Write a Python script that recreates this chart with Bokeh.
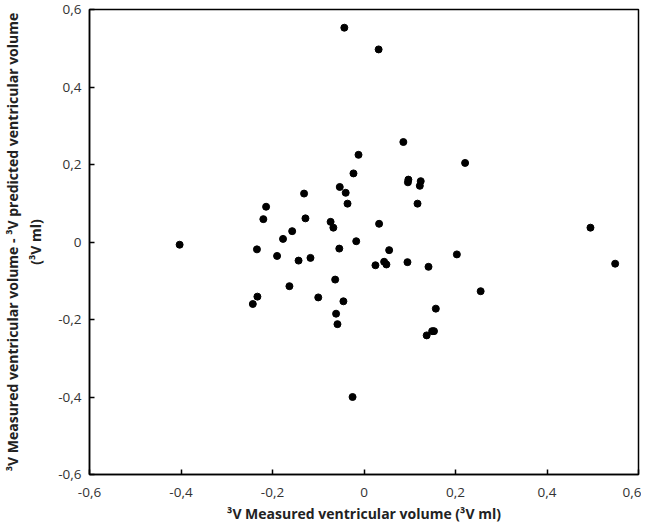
from bokeh.plotting import figure
from bokeh.models import Range1d, FixedTicker, CustomJSTickFormatter, ColumnDataSource
from bokeh.embed import file_html
from bokeh.resources import INLINE

x_vals = [-0.403, -0.234, -0.220, -0.214, -0.190, -0.177, -0.157, -0.143, -0.131, -0.128,
          -0.117, -0.073, -0.043, 0.032, 0.086, -0.012, 0.221, -0.023, 0.097, 0.096,
          0.124, 0.122, -0.053, -0.040, -0.036, 0.117, -0.067, 0.033, 0.495, -0.017,
          -0.054, 0.055, 0.203, 0.044, 0.095, 0.025, 0.049, 0.141, 0.549, 0.255,
          -0.063, -0.100, -0.045, -0.061, -0.058, 0.157, 0.137, 0.149, 0.153, -0.025,
          -0.163, -0.233, -0.243]
y_vals = [-0.007, -0.019, 0.059, 0.091, -0.036, 0.008, 0.028, -0.048, 0.125, 0.061,
          -0.041, 0.052, 0.553, 0.497, 0.258, 0.225, 0.204, 0.177, 0.161, 0.154,
          0.157, 0.145, 0.142, 0.127, 0.099, 0.099, 0.037, 0.047, 0.037, 0.002,
          -0.017, -0.021, -0.032, -0.051, -0.052, -0.060, -0.058, -0.064, -0.056, -0.127,
          -0.097, -0.143, -0.153, -0.185, -0.212, -0.172, -0.241, -0.230, -0.230, -0.400,
          -0.114, -0.141, -0.160]
ticks = [-0.6, -0.4, -0.2, 0.0, 0.2, 0.4, 0.6]
x_label = "³V Measured ventricular volume (³V ml)"
y_label = "³V Measured ventricular volume - ³V predicted ventricular volume\n(³V ml)"

src = ColumnDataSource(data=dict(x=x_vals, y=y_vals))

p = figure(output_backend="svg", toolbar_location=None,
           frame_width=549, frame_height=465,
           min_border_left=85, min_border_right=3, min_border_top=9, min_border_bottom=34,
           x_range=Range1d(-0.6, 0.6), y_range=Range1d(-0.6, 0.6))
p.scatter("x", "y", source=src, size=7, color="black")

p.xgrid.visible = False
p.ygrid.visible = False
p.outline_line_color = "black"
p.outline_line_width = 1.5
p.background_fill_color = "white"
p.border_fill_color = "white"

fmt = CustomJSTickFormatter(code="""
if (Math.abs(tick) < 1e-9) { return '0'; }
return tick.toFixed(1).replace('.', ',');
""")

for ax in (p.xaxis[0], p.yaxis[0]):
    ax.ticker = FixedTicker(ticks=ticks)
    ax.formatter = fmt
    ax.minor_tick_line_color = None
    ax.major_tick_in = 5
    ax.major_tick_out = 0
    ax.axis_line_color = "black"
    ax.axis_line_width = 1.5
    ax.major_tick_line_color = "black"
    ax.major_tick_line_width = 1.5
    ax.major_label_text_font = "Open Sans"
    ax.major_label_text_font_size = "13.5px"
    ax.major_label_text_color = "#333333"
    ax.axis_label_text_font = "Open Sans"
    ax.axis_label_text_font_size = "14px"
    ax.axis_label_text_font_style = "bold"
    ax.axis_label_text_color = "#222222"

p.xaxis.axis_label = x_label
p.yaxis.axis_label = y_label
p.xaxis.major_label_standoff = 13
p.yaxis.major_label_standoff = 8
p.xaxis.axis_label_standoff = 4
p.yaxis.axis_label_standoff = 10

open("out.html", "w").write(file_html(p, INLINE))
